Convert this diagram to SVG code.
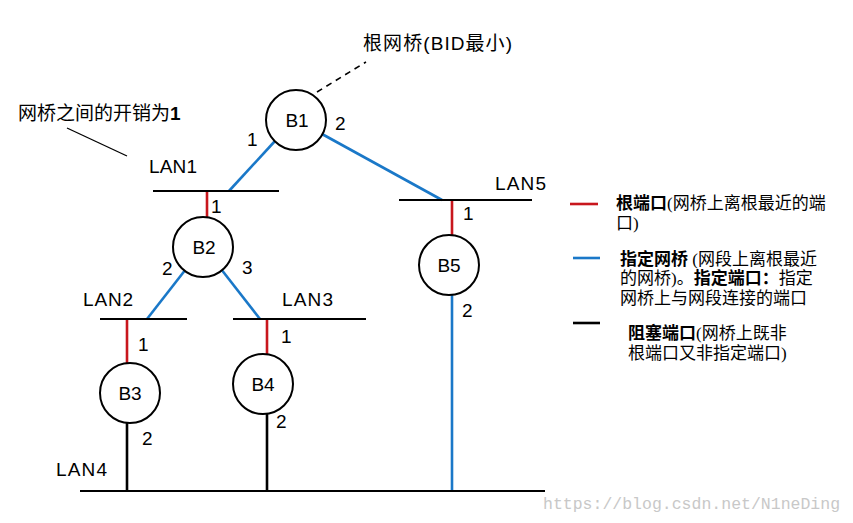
<svg xmlns="http://www.w3.org/2000/svg" width="853" height="523" viewBox="0 0 853 523">
<style>
.bg{fill:#ffffff}
.br circle{fill:#ffffff;stroke:#000;stroke-width:2}
.lbl{font-family:"Liberation Sans","Noto Sans",sans-serif;font-size:19px;fill:#000}
.bn{font-family:"Liberation Sans","Noto Sans",sans-serif;font-size:19px;fill:#000;text-anchor:middle}
.lan{stroke:#000;stroke-width:2}
.red{stroke:#c8161d;stroke-width:2.6;fill:none}
.blue{stroke:#1a78c8;stroke-width:2.6;fill:none}
.blk{stroke:#000;stroke-width:2.6;fill:none}
.cn{font-family:"Liberation Serif","Noto Sans CJK SC",sans-serif;font-size:17px;fill:#000}
.cb{font-weight:bold}
.ann{font-family:"Liberation Sans","Noto Sans CJK SC",sans-serif;font-size:19px;fill:#000}
.wm{font-family:"Liberation Mono","Noto Sans Mono",monospace;font-size:16.5px;fill:#c8c8c8}
</style>
<rect class="bg" x="0" y="0" width="853" height="523"/>

<g id="connectors">
  <line class="blue" x1="275" y1="141" x2="229" y2="191"/>
  <line class="blue" x1="322" y1="134" x2="442" y2="200"/>
  <line class="red" x1="207" y1="191" x2="207" y2="217"/>
  <line class="blue" x1="186" y1="269" x2="147" y2="319"/>
  <line class="blue" x1="221" y1="269" x2="260" y2="319"/>
  <line class="red" x1="127" y1="319" x2="127" y2="363"/>
  <line class="blk" x1="127" y1="423" x2="127" y2="491"/>
  <line class="red" x1="267" y1="319" x2="267" y2="354"/>
  <line class="blk" x1="267" y1="414" x2="267" y2="491"/>
  <line class="red" x1="452" y1="200" x2="452" y2="235"/>
  <line class="blue" x1="452" y1="295" x2="452" y2="491"/>
  <line x1="317" y1="92" x2="366" y2="62" stroke="#000" stroke-width="1.6" stroke-dasharray="6,5"/>
  <line x1="67" y1="128" x2="127" y2="156" stroke="#000" stroke-width="1.3"/>
</g>

<g id="LAN1"><line class="lan" x1="153" y1="191" x2="279" y2="191"/><text class="lbl" x="149" y="173" textLength="48">LAN1</text></g>
<g id="LAN2"><line class="lan" x1="100" y1="319" x2="187" y2="319"/><text class="lbl" x="83" y="306" textLength="50">LAN2</text></g>
<g id="LAN3"><line class="lan" x1="233" y1="319" x2="366" y2="319"/><text class="lbl" x="282" y="306" textLength="51">LAN3</text></g>
<g id="LAN4"><line class="lan" x1="80" y1="491" x2="545" y2="491"/><text class="lbl" x="56" y="476" textLength="51">LAN4</text></g>
<g id="LAN5"><line class="lan" x1="399" y1="200" x2="532" y2="200"/><text class="lbl" x="495" y="190" textLength="51">LAN5</text></g>

<g id="B1" class="br"><circle cx="296" cy="120" r="30"/><text class="bn" x="297" y="127">B1</text>
  <text class="lbl" x="247" y="146">1</text><text class="lbl" x="335" y="130">2</text></g>
<g id="B2" class="br"><circle cx="203" cy="247" r="30"/><text class="bn" x="204" y="254">B2</text>
  <text class="lbl" x="211" y="213">1</text><text class="lbl" x="162" y="275">2</text><text class="lbl" x="242" y="274">3</text></g>
<g id="B3" class="br"><circle cx="130" cy="393" r="30"/><text class="bn" x="130" y="400">B3</text>
  <text class="lbl" x="138" y="351">1</text><text class="lbl" x="142" y="445">2</text></g>
<g id="B4" class="br"><circle cx="263" cy="384" r="30"/><text class="bn" x="263" y="391">B4</text>
  <text class="lbl" x="281" y="343">1</text><text class="lbl" x="276" y="428">2</text></g>
<g id="B5" class="br"><circle cx="449" cy="265" r="30"/><text class="bn" x="449" y="272">B5</text>
  <text class="lbl" x="463" y="220">1</text><text class="lbl" x="462" y="317">2</text></g>

<g id="annotations">
  <text class="ann" x="363" y="50" textLength="149" lengthAdjust="spacing">根网桥(BID最小)</text>
  <text class="ann" x="18" y="120">网桥之间的开销为<tspan font-weight="bold">1</tspan></text>
</g>

<g id="legend">
  <line class="red" x1="570" y1="204" x2="598" y2="204"/>
  <line class="blue" x1="573" y1="258" x2="600" y2="258"/>
  <line class="blk" x1="573" y1="323" x2="600" y2="323"/>
  <text class="cn" x="616" y="209"><tspan class="cb">根端口</tspan>(网桥上离根最近的端</text>
  <text class="cn" x="616" y="229">口)</text>
  <text class="cn" x="620" y="265"><tspan class="cb">指定网桥</tspan> (网段上离根最近</text>
  <text class="cn" x="620" y="284">的网桥)。<tspan class="cb">指定端口：</tspan>指定</text>
  <text class="cn" x="620" y="304">网桥上与网段连接的端口</text>
  <text class="cn" x="628" y="339"><tspan class="cb">阻塞端口</tspan>(网桥上既非</text>
  <text class="cn" x="628" y="359">根端口又非指定端口)</text>
</g>

<text class="wm" x="543" y="509">https://blog.csdn.net/N1neDing</text>
</svg>
